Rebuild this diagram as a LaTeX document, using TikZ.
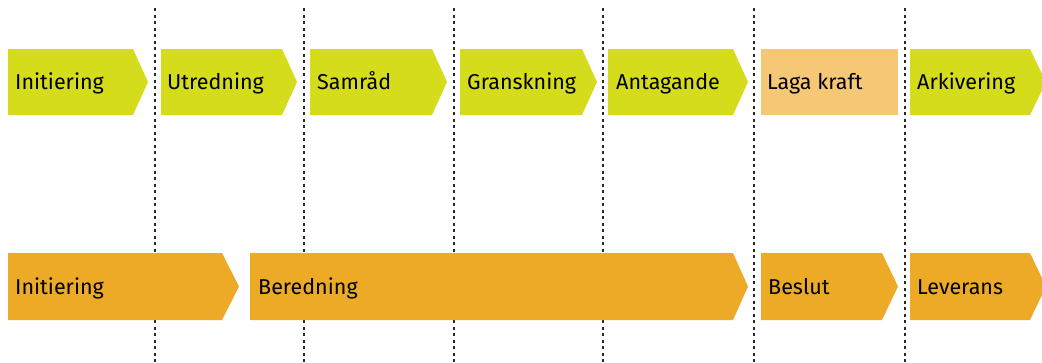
\documentclass[tikz,border=0pt]{standalone}
\usepackage{fontspec}
\setmainfont{Fira Sans}
\definecolor{lime}{RGB}{212,220,28}
\definecolor{amber}{RGB}{236,170,38}
\definecolor{pale}{RGB}{246,200,118}
\definecolor{dashc}{RGB}{40,40,40}
\tikzset{
  lbl/.style={anchor=base west,font=\fontsize{21.5}{24}\selectfont,text=black,inner sep=0pt},
  sep/.style={draw=dashc,line width=1.2pt,dash pattern=on 3pt off 3.5pt},
}
\begin{document}
\begin{tikzpicture}[x=1pt,y=-1pt]
\useasboundingbox (0,0) rectangle (1042,362);
\clip (0,0) rectangle (1042,362);
% separators
\foreach \x [count=\i] in {155,304,454,603,754,905}{
  \coordinate (s\i a) at (\x,8);
  \coordinate (s\i b) at (\x,362);
  \draw[sep] (s\i a) -- (s\i b);
}
% top row
\foreach \l/\b/\t in {8/133/148, 161/282/297, 310/432/447, 460/582/597, 608/733/748, 910/1030/1046}{
  \fill[lime] (\l,49) -- (\b,49) -- (\t,82) -- (\b,115) -- (\l,115) -- cycle;
}
\fill[pale] (761,49) rectangle (898,115);
% bottom row
\foreach \l/\b/\t in {8/222/239, 250/733/748, 761/882/898, 910/1030/1046}{
  \fill[amber] (\l,253) -- (\b,253) -- (\t,286.5) -- (\b,320) -- (\l,320) -- cycle;
}
% labels
\node[lbl] (t1) at (15,89) {Initiering};
\node[lbl] (t2) at (167,89) {Utredning};
\node[lbl] (t3) at (317,89) {Samråd};
\node[lbl] (t4) at (467,89) {Granskning};
\node[lbl] (t5) at (616,89) {Antagande};
\node[lbl] (t6) at (767,89) {Laga kraft};
\node[lbl] (t7) at (917,89) {Arkivering};
\node[lbl] (b1) at (15,294) {Initiering};
\node[lbl] (b2) at (258,294) {Beredning};
\node[lbl] (b3) at (768,294) {Beslut};
\node[lbl] (b4) at (917,294) {Leverans};
\end{tikzpicture}
\end{document}
